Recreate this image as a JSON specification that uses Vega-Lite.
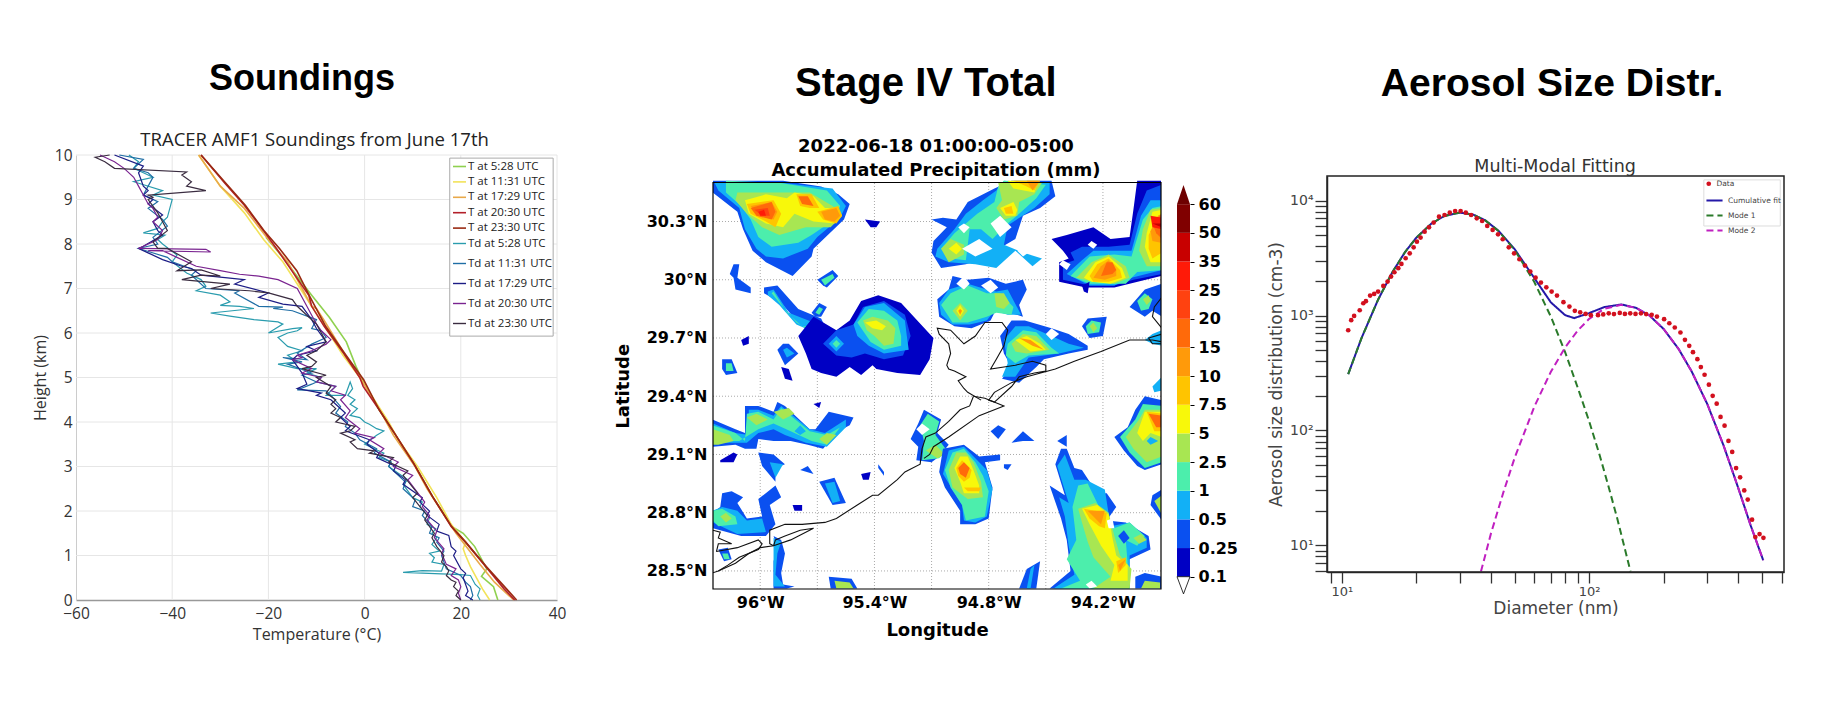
{"$schema":"https://vega.github.io/schema/vega-lite/v6.json","autosize":{"type":"none"},"padding":{"left":76,"top":155,"right":1754,"bottom":559},"background":"white","bounds":"flush","spacing":16,"config":{"view":{"stroke":null},"axis":{"grid":false}},
"resolve":{"scale":{"fill":"independent","stroke":"independent","color":"independent","strokeDash":"independent"},"legend":{"fill":"independent","stroke":"independent","color":"independent","strokeDash":"independent"}},
"hconcat":[
{"width":621,"height":445,"layer":[
{"data":{"values":[{"t":-40},{"t":-20},{"t":0},{"t":20},{"t":40}]},"mark":{"type":"rule","color":"#e6e6e6","strokeWidth":1},"encoding":{"x":{"field":"t","type":"quantitative","scale":{"domain":[-60,40],"range":[0,481]},"title":"Temperature (°C)","axis":{"values":[-60,-40,-20,0,20,40],"tickSize":0,"domainColor":"#999","domainWidth":1.5,"labelFont":"Open Sans","labelFontSize":15.5,"labelColor":"#333","labelPadding":6,"titleFont":"Open Sans","titleFontSize":16,"titleFontWeight":"normal","titleColor":"#333","titlePadding":5,"labelFlush":false}}}},
{"data":{"values":[{"h":1},{"h":2},{"h":3},{"h":4},{"h":5},{"h":6},{"h":7},{"h":8},{"h":9},{"h":10}]},"mark":{"type":"rule","color":"#e6e6e6","strokeWidth":1},"encoding":{"y":{"field":"h","type":"quantitative","scale":{"domain":[0,10],"range":[445,0]},"title":"Height (km)","axis":{"values":[0,1,2,3,4,5,6,7,8,9,10],"tickCount":11,"tickSize":0,"domainColor":"#ccc","labelFont":"Open Sans","labelFontSize":15.5,"labelColor":"#333","labelPadding":4,"titleFont":"Open Sans","titleFontSize":16,"titleFontWeight":"normal","titleColor":"#333","titlePadding":6,"labelFlush":false}},"x":{"datum":-60,"scale":{"domain":[-60,40],"range":[0,481]}},"x2":{"datum":40}}},
{"data":{"values":[{}]},"mark":{"type":"rect","fill":"white","stroke":"#aaa","strokeWidth":1},"encoding":{"x":{"datum":17.7,"scale":{"domain":[-60,40],"range":[0,481]}},"x2":{"datum":39.2},"y":{"datum":9.93,"scale":{"domain":[0,10],"range":[445,0]}},"y2":{"datum":5.93}}},
{"data":{"values":[
{"series":"T at 5:28 UTC","t":[27.7,26.8,24.3,25.4,22.9,20.5,18.2,14.1,10.2,6.2,3,-0.5,-1.8,-3.8,-7.3,-11,-14.2,-17,-20.5],"h":[0,0.3,0.53,0.7,1.2,1.5,1.65,2.33,3.07,3.75,4.28,4.95,5.25,5.8,6.35,6.85,7.3,7.7,8.15]},
{"series":"T at 11:31 UTC","t":[26,24.5,22,21,20.5,21,18,16.5,15,11,7,5,2,-1,-4.5,-8,-11,-14,-17,-21,-25,-30,-34.5],"h":[0,0.25,0.75,1,1.15,1.3,1.7,2,2.3,3,3.6,4,4.5,5,5.5,6.1,6.6,7.1,7.6,8.1,8.7,9.3,10]},
{"series":"T at 17:29 UTC","t":[31,27,24,19,16,13,10.5,6,3,-1,-4,-8.5,-10,-11,-13,-16,-20,-25,-30,-34.5],"h":[0,0.4,0.8,1.5,2,2.5,3,3.7,4.3,5,5.5,6.3,6.55,6.6,7,7.6,8.1,8.8,9.3,10]},
{"series":"T at 20:30 UTC","t":[31.2,29,25.2,21,18,14.1,10.2,6.2,3,-0.3,-1,-4.4,-8.4,-11,-11.6,-14.5,-18,-21,-25,-29,-34],"h":[0,0.25,0.75,1.3,1.65,2.33,3.07,3.75,4.28,4.8,5,5.55,6.15,6.6,6.85,7.3,7.85,8.3,8.87,9.36,10]},
{"series":"T at 23:30 UTC","t":[31.6,29.5,25.3,21,18.1,14.1,10.2,6.2,3,-0.2,-4.2,-8.1,-11.3,-14.1,-17.7,-20.9,-24.8,-28.8,-34],"h":[0,0.25,0.75,1.3,1.65,2.33,3.07,3.75,4.28,4.95,5.55,6.15,6.8,7.4,7.9,8.3,8.87,9.36,10]}
]},"transform":[{"flatten":["t","h"]}],"mark":{"type":"line","order":false,"strokeWidth":1.6},"encoding":{"x":{"field":"t","type":"quantitative","scale":{"domain":[-60,40],"range":[0,481]}},"y":{"field":"h","type":"quantitative","scale":{"domain":[0,10],"range":[445,0]}},"stroke":{"field":"series","type":"nominal","scale":{"domain":["T at 5:28 UTC","T at 11:31 UTC","T at 17:29 UTC","T at 20:30 UTC","T at 23:30 UTC"],"range":["#8fd14f","#f2e35a","#e9a94a","#b3202a","#9a2a12"]},"legend":{"orient":"none","legendX":376,"legendY":4,"title":null,"symbolType":"stroke","symbolSize":170,"symbolStrokeWidth":1.6,"labelFont":"Open Sans","labelFontSize":11.5,"labelColor":"#222","rowPadding":2.4,"padding":0,"labelOffset":1}}}},
{"data":{"values":[
{"series":"Td at 5:28 UTC","t":[24,23.5,24,23,22,20,8,12,16,16.5,14,14.5,13.5,15.5,14,15,14,14.8,13,13.5,11.5,12,10,8,9,7,5,5.5,3,4,2,0,2.5,4,2.5,1,0,-1,-3,-1.5,-3,-2,-3.5,-2.5,-3,-4,-8,-6,-10,-9,-12,-10,-14,-18,-14,-16,-13,-16,-18,-16,-14,-13,-15,-20,-17,-18,-23,-28,-32,-23,-26,-30,-28,-30,-35,-33,-34,-37,-40,-39,-42,-43,-41.5,-46,-43,-42,-41,-40,-44,-42,-48,-44,-46,-48,-47,-49],"h":[0,0.1,0.25,0.35,0.55,0.57,0.62,0.66,0.65,0.8,0.85,0.95,1.05,1.1,1.25,1.4,1.5,1.6,1.7,1.85,2.1,2.2,2.3,2.6,2.7,2.85,3,3.1,3.2,3.3,3.4,3.5,3.7,3.8,3.85,3.95,4,4.1,4.15,4.3,4.4,4.5,4.6,4.75,4.9,4.6,4.6,4.8,4.9,5,5.1,5.2,5.2,5.3,5.35,5.5,5.6,5.7,5.9,6,6.05,6.12,6.1,6,6.2,6.25,6.3,6.38,6.45,6.55,6.6,6.62,6.7,6.85,6.95,7.05,7.2,7.35,7.6,7.75,8,8.1,8.2,8.25,8.35,8.5,8.6,9,9.1,9.2,9.4,9.5,9.6,9.7,9.85,10]},
{"series":"Td at 11:31 UTC","t":[22,22.5,22,21,20,17,16,16.5,15,15.5,13.5,14,12,12.5,10,10.5,8,8.5,5,5.5,2,2.5,-1,-2,-4,-3.5,-6,-5,-7,-8,-14,-11,-10,-13,-11,-16,-13,-17,-12,-14,-11,-9,-8,-9,-11,-10,-15,-19,-17,-22,-27,-26,-33,-36,-35,-40,-41,-47,-45,-43,-44,-41,-42,-45,-43,-46,-45,-44,-45,-48,-46,-51],"h":[0,0.1,0.3,0.4,0.55,0.7,1,1.1,1.3,1.4,1.5,1.65,1.9,2,2.1,2.25,2.5,2.65,3,3.1,3.3,3.4,3.6,3.75,3.9,4,4.2,4.35,4.6,4.7,4.72,4.85,4.9,5.05,5.1,5.3,5.35,5.45,5.4,5.55,5.75,5.85,5.9,6.05,6.1,6.3,6.5,6.55,6.58,6.6,6.9,6.95,7,7.3,7.4,7.6,7.7,7.9,7.95,8,8.15,8.4,8.55,8.8,8.95,9.1,9.3,9.5,9.6,9.7,9.9,10]},
{"series":"Td at 17:29 UTC","t":[22.5,21,21.5,20.5,21,20,18.5,19,18,17.5,15,15.5,13,13.5,11.5,12,8,8.5,6,6.5,2.5,3,0.5,1,-4,-3,-5,-4,-6,-7,-10,-9,-14,-12,-13,-15,-14,-10,-12,-8,-9,-10,-11,-13,-17,-22,-20,-27,-25,-34,-36,-38,-42,-45,-47,-46,-42,-43,-44,-42,-45,-44,-46,-45,-46,-47,-46,-52],"h":[0,0.1,0.2,0.5,0.6,0.7,1,1.1,1.2,1.45,1.55,1.7,1.9,2,2.2,2.3,2.6,2.7,2.9,3,3.2,3.3,3.5,3.6,3.8,3.9,4.1,4.2,4.4,4.5,4.6,4.65,4.75,4.85,5.1,5.4,5.5,5.6,5.7,5.8,5.95,6.1,6.3,6.6,6.65,6.8,6.9,7.1,7.2,7.3,7.45,7.5,7.65,7.8,7.9,7.95,8.2,8.3,8.5,8.65,8.9,9,9.1,9.2,9.3,9.6,9.75,10]},
{"series":"Td at 20:30 UTC","t":[20,19.5,20,19.5,18,19,17,16,16.5,14.5,15,13,13.5,12,12.5,9,10,6,7,3,4,1,2,-2,-1,-4,-3,-5,-4,-7,-6,-10,-9,-13,-11,-15,-13,-14,-11,-8,-7,-8,-9,-10,-11,-12,-14,-18,-22,-26,-30,-35,-39,-42,-45,-32,-33,-47,-43,-42,-44,-43,-44,-45,-46,-47,-48,-50,-52,-55],"h":[0,0.15,0.3,0.45,0.55,0.7,0.8,1.05,1.15,1.4,1.55,1.8,1.9,2.1,2.2,2.7,2.8,3,3.1,3.3,3.4,3.6,3.65,3.75,3.85,4.1,4.25,4.5,4.6,4.7,4.8,4.9,5,5.1,5.2,5.4,5.45,5.5,5.6,5.75,5.85,5.95,6.05,6.2,6.4,6.6,7,7.2,7.28,7.32,7.4,7.5,7.7,7.85,7.85,7.82,7.88,7.9,8.1,8.3,8.5,8.6,8.8,8.9,9.1,9.3,9.5,9.7,9.85,10]},
{"series":"Td at 23:30 UTC","t":[20,19,19.5,18.5,19,18,17,17.5,17,16,16.5,15,14,14.5,12.5,13,10,11,8,9,5,6,1,2,-1.5,-3,-2,-5,-3,-2,-6,-5,-7,-6,-7,-6,-8,-7,-10,-8,-13,-11,-10,-12,-10,-9,-8,-9,-10,-12,-14,-15,-20,-24,-32,-28,-38,-34,-30,-34,-39,-36,-41,-43,-44,-41,-42,-43,-45,-44,-45,-33,-37,-36,-38,-37,-52,-54,-56,-53],"h":[0,0.1,0.2,0.3,0.4,0.45,0.55,0.65,0.75,0.85,1,1.2,1.4,1.5,1.8,1.9,2.3,2.4,2.8,2.9,3.1,3.2,3.3,3.35,3.4,3.55,3.6,3.75,3.8,3.9,4,4.1,4.2,4.3,4.4,4.5,4.65,4.8,5,5.05,5.2,5.25,5.35,5.5,5.6,5.7,5.8,6,6.2,6.4,6.6,6.75,6.9,6.95,7,7.1,7.2,7.3,7.28,7.42,7.4,7.6,7.9,7.9,8.05,8.3,8.5,8.7,9,9.05,9.1,9.2,9.3,9.4,9.55,9.62,9.7,9.85,9.95,10]}
]},"transform":[{"flatten":["t","h"]}],"mark":{"type":"line","order":false,"strokeWidth":1.2},"encoding":{"x":{"field":"t","type":"quantitative","scale":{"domain":[-60,40],"range":[0,481]}},"y":{"field":"h","type":"quantitative","scale":{"domain":[0,10],"range":[445,0]}},"color":{"field":"series","type":"nominal","scale":{"domain":["Td at 5:28 UTC","Td at 11:31 UTC","Td at 17:29 UTC","Td at 20:30 UTC","Td at 23:30 UTC"],"range":["#2a9cae","#1f6ea5","#1c1c85","#7a2490","#3a2c40"]},"legend":{"orient":"none","legendX":376,"legendY":81,"title":null,"symbolType":"stroke","symbolSize":170,"symbolStrokeWidth":1.4,"labelFont":"Open Sans","labelFontSize":11.5,"labelColor":"#222","rowPadding":7,"padding":0,"labelOffset":1}}}},
{"data":{"values":[{"label":"Soundings"}]},"mark":{"type":"text","fontSize":36,"fontWeight":"bold","font":"Liberation Sans","baseline":"alphabetic","color":"#000"},"encoding":{"text":{"field":"label"},"x":{"datum":-13,"scale":{"domain":[-60,40],"range":[0,481]}},"y":{"datum":11.46,"scale":{"domain":[0,10],"range":[445,0]}}}},
{"data":{"values":[{"label":"TRACER AMF1 Soundings from June 17th"}]},"mark":{"type":"text","fontSize":18.5,"font":"Open Sans","baseline":"alphabetic","color":"#222"},"encoding":{"text":{"field":"label"},"x":{"datum":-10.4,"scale":{"domain":[-60,40],"range":[0,481]}},"y":{"datum":10.2,"scale":{"domain":[0,10],"range":[445,0]}}}}
]},
{"width":448,"height":445,"layer":[
{"data":{"values":[{"lon":-96},{"lon":-95.7},{"lon":-95.4},{"lon":-95.1},{"lon":-94.8},{"lon":-94.5},{"lon":-94.2}]},"mark":{"type":"rule","color":"#aaa","strokeDash":[1,2]},"encoding":{"x":{"field":"lon","type":"quantitative","scale":{"domain":[-96.248,-93.895],"range":[0,448]},"title":"Longitude","axis":{"values":[-96,-95.4,-94.8,-94.2],"offset":-11,"domain":false,"ticks":false,"labelExpr":"format(abs(datum.value),'.1~f')+'°W'","labelFont":"DejaVu Sans","labelFontSize":16,"labelFontWeight":"bold","labelColor":"#000","labelPadding":5,"titleFont":"DejaVu Sans","titleFontSize":18,"titleFontWeight":"bold","titleColor":"#000","titlePadding":11,"labelFlush":false}},"y":{"datum":28.407,"scale":{"domain":[28.407,30.501],"range":[434,27.5]}},"y2":{"datum":30.501}}},
{"data":{"values":[{"lat":30.3},{"lat":30},{"lat":29.7},{"lat":29.4},{"lat":29.1},{"lat":28.8},{"lat":28.5}]},"mark":{"type":"rule","color":"#aaa","strokeDash":[1,2]},"encoding":{"y":{"field":"lat","type":"quantitative","scale":{"domain":[28.407,30.501],"range":[434,27.5]},"title":"Latitude","axis":{"values":[30.3,30,29.7,29.4,29.1,28.8,28.5],"domain":false,"ticks":false,"labelExpr":"format(datum.value,'.1~f')+'°N'","labelFont":"DejaVu Sans","labelFontSize":16,"labelFontWeight":"bold","labelColor":"#000","labelPadding":6,"titleFont":"DejaVu Sans","titleFontSize":18,"titleFontWeight":"bold","titleColor":"#000","titlePadding":14,"labelFlush":false}},"x":{"datum":-96.248,"scale":{"domain":[-96.248,-93.895],"range":[0,448]}},"x2":{"datum":-93.895}}},
{"data":{"values":[
{"poly":1,"level":"0.25","lon":[-96.25,-95.88,-95.68,-95.59,-95.53,-95.56,-95.72,-95.73,-95.83,-95.97,-96.04,-96.09,-96.12,-96.25],"lat":[30.51,30.51,30.48,30.44,30.39,30.31,30.16,30.12,30.02,30.09,30.15,30.26,30.35,30.45]},
{"poly":2,"level":"0.5","lon":[-96.24,-95.89,-95.62,-95.55,-95.58,-95.70,-95.75,-95.88,-95.97,-96.02,-96.08,-96.11,-96.22],"lat":[30.50,30.50,30.47,30.38,30.32,30.22,30.16,30.11,30.12,30.16,30.26,30.37,30.46]},
{"poly":3,"level":"1","lon":[-96.18,-95.90,-95.65,-95.58,-95.61,-95.73,-95.80,-95.94,-96.01,-96.05,-96.10,-96.18],"lat":[30.51,30.50,30.46,30.38,30.31,30.23,30.19,30.17,30.22,30.31,30.38,30.45]},
{"poly":4,"level":"2.5","lon":[-96.12,-95.86,-95.74,-95.62,-95.57,-95.63,-95.76,-95.90,-95.99,-96.07,-96.13],"lat":[30.45,30.45,30.45,30.38,30.33,30.27,30.27,30.23,30.27,30.34,30.41]},
{"poly":5,"level":"5","lon":[-96.08,-95.97,-95.86,-95.82,-95.72,-95.66,-95.59,-95.57,-95.61,-95.72,-95.82,-95.88,-95.97,-96.06],"lat":[30.41,30.44,30.42,30.45,30.43,30.37,30.37,30.33,30.29,30.30,30.34,30.27,30.29,30.34]},
{"poly":6,"level":"7.5","lon":[-96.07,-95.93,-95.89,-95.92,-95.97,-96.05],"lat":[30.39,30.41,30.34,30.27,30.30,30.34]},
{"poly":7,"level":"7.5","lon":[-95.81,-95.73,-95.69,-95.74,-95.79],"lat":[30.44,30.44,30.37,30.37,30.38]},
{"poly":8,"level":"7.5","lon":[-95.70,-95.59,-95.57,-95.60,-95.67],"lat":[30.35,30.38,30.33,30.29,30.31]},
{"poly":9,"level":"10","lon":[-96.05,-95.94,-95.91,-95.93,-96.01],"lat":[30.38,30.40,30.35,30.31,30.33]},
{"poly":10,"level":"10","lon":[-95.68,-95.60,-95.58,-95.61,-95.66],"lat":[30.35,30.37,30.33,30.30,30.31]},
{"poly":11,"level":"15","lon":[-96.05,-95.94,-95.92,-95.94,-96.02],"lat":[30.37,30.40,30.35,30.31,30.33]},
{"poly":12,"level":"15","lon":[-95.80,-95.75,-95.72,-95.78],"lat":[30.43,30.43,30.38,30.39]},
{"poly":13,"level":"20","lon":[-96.03,-95.96,-95.95,-95.99],"lat":[30.36,30.37,30.33,30.33]},
{"poly":14,"level":"25","lon":[-96.01,-95.98,-95.97,-96.0],"lat":[30.35,30.36,30.33,30.33]},
{"poly":15,"level":"0.1","lon":[-95.45,-95.37,-95.39,-95.42],"lat":[30.31,30.30,30.27,30.27]},
{"poly":16,"level":"0.25","lon":[-96.14,-96.11,-96.12,-96.05,-96.05,-96.13,-96.14,-96.16],"lat":[30.08,30.08,30.01,29.96,29.93,29.95,30.01,30.03]},
{"poly":17,"level":"0.25","lon":[-95.70,-95.62,-95.59,-95.65,-95.67],"lat":[30.0,30.05,30.02,29.96,29.97]},
{"poly":18,"level":"1","lon":[-95.68,-95.62,-95.61,-95.66],"lat":[30.0,30.03,30.01,29.97]},
{"poly":19,"level":"0.25","lon":[-95.98,-95.91,-95.80,-95.68,-95.66,-95.72,-95.80,-95.89,-95.98],"lat":[29.96,29.97,29.85,29.80,29.76,29.74,29.78,29.88,29.93]},
{"poly":20,"level":"0.5","lon":[-95.96,-95.93,-95.85,-95.72,-95.68,-95.74,-95.81,-95.90,-95.96],"lat":[29.94,29.95,29.83,29.78,29.76,29.74,29.77,29.87,29.92]},
{"poly":21,"level":"1","lon":[-95.94,-95.93,-95.86,-95.78,-95.71,-95.76,-95.81,-95.89],"lat":[29.93,29.94,29.83,29.76,29.76,29.75,29.78,29.87]},
{"poly":22,"level":"0.25","lon":[-95.73,-95.69,-95.65,-95.68,-95.71],"lat":[29.83,29.88,29.86,29.81,29.81]},
{"poly":23,"level":"1","lon":[-95.71,-95.69,-95.67,-95.69],"lat":[29.83,29.86,29.85,29.82]},
{"poly":24,"level":"0.1","lon":[-96.10,-96.06,-96.06,-96.09],"lat":[29.69,29.71,29.67,29.66]},
{"poly":25,"level":"0.1","lon":[-95.80,-95.72,-95.60,-95.53,-95.47,-95.38,-95.26,-95.09,-95.11,-95.16,-95.28,-95.39,-95.41,-95.47,-95.53,-95.60,-95.68,-95.73,-95.76],"lat":[29.71,29.81,29.74,29.79,29.89,29.92,29.88,29.70,29.59,29.51,29.52,29.54,29.56,29.51,29.55,29.50,29.52,29.54,29.62]},
{"poly":26,"level":"0.25","lon":[-95.67,-95.60,-95.51,-95.46,-95.35,-95.24,-95.21,-95.25,-95.35,-95.45,-95.52,-95.60],"lat":[29.67,29.74,29.77,29.86,29.89,29.82,29.71,29.61,29.59,29.62,29.60,29.61]},
{"poly":27,"level":"0.5","lon":[-95.51,-95.45,-95.35,-95.24,-95.23,-95.22,-95.35,-95.43,-95.49],"lat":[29.77,29.86,29.88,29.79,29.71,29.64,29.62,29.66,29.71]},
{"poly":28,"level":"0.5","lon":[-95.64,-95.60,-95.56,-95.60],"lat":[29.67,29.71,29.67,29.63]},
{"poly":29,"level":"1","lon":[-95.49,-95.43,-95.35,-95.28,-95.26,-95.26,-95.35,-95.42],"lat":[29.78,29.85,29.84,29.79,29.71,29.66,29.64,29.68]},
{"poly":30,"level":"1","lon":[-95.62,-95.60,-95.58,-95.60],"lat":[29.67,29.69,29.67,29.65]},
{"poly":31,"level":"2.5","lon":[-95.46,-95.41,-95.33,-95.29,-95.30,-95.35,-95.40,-95.44],"lat":[29.79,29.81,29.79,29.75,29.67,29.66,29.71,29.74]},
{"poly":32,"level":"5","lon":[-95.45,-95.39,-95.34,-95.36,-95.41],"lat":[29.78,29.79,29.76,29.74,29.75]},
{"poly":33,"level":"0.25","lon":[-95.88,-95.85,-95.80,-95.87,-95.91],"lat":[29.67,29.67,29.62,29.56,29.64]},
{"poly":34,"level":"0.5","lon":[-95.88,-95.86,-95.82,-95.86],"lat":[29.64,29.65,29.62,29.60]},
{"poly":35,"level":"0.25","lon":[-96.20,-96.15,-96.12,-96.18,-96.20],"lat":[29.59,29.59,29.52,29.51,29.54]},
{"poly":36,"level":"1","lon":[-96.18,-96.15,-96.14,-96.18],"lat":[29.57,29.57,29.53,29.53]},
{"poly":37,"level":"0.1","lon":[-95.89,-95.85,-95.83,-95.87],"lat":[29.55,29.54,29.48,29.49]},
{"poly":38,"level":"0.25","lon":[-95.10,-95.04,-94.97,-94.91,-94.85,-94.77,-94.68,-94.68,-94.58,-94.47,-94.45,-94.53,-94.62,-94.66,-94.85,-94.92,-95.05,-95.10,-95.09,-95.02],"lat":[30.31,30.32,30.31,30.40,30.43,30.47,30.51,30.51,30.51,30.51,30.43,30.37,30.33,30.21,30.10,30.08,30.06,30.14,30.20,30.27]},
{"poly":39,"level":"0.5","lon":[-95.07,-94.98,-94.92,-94.83,-94.76,-94.72,-94.48,-94.48,-94.56,-94.70,-94.72,-94.62,-94.52,-94.57,-94.66,-94.76,-94.87,-95.01,-95.08],"lat":[30.16,30.26,30.34,30.41,30.46,30.51,30.5,30.44,30.37,30.28,30.18,30.14,30.11,30.07,30.15,30.06,30.08,30.09,30.12]},
{"poly":40,"level":"1","lon":[-95.05,-94.98,-94.86,-94.77,-94.75,-94.72,-94.50,-94.55,-94.64,-94.70,-94.75,-94.78,-94.84,-94.90,-94.92,-95.0],"lat":[30.16,30.24,30.34,30.40,30.48,30.51,30.49,30.42,30.34,30.29,30.24,30.21,30.26,30.26,30.10,30.11]},
{"poly":41,"level":"2.5","lon":[-95.05,-95.0,-94.93,-94.93,-95.01],"lat":[30.16,30.21,30.18,30.13,30.09]},
{"poly":42,"level":"5","lon":[-95.01,-94.97,-94.94,-94.97],"lat":[30.16,30.19,30.16,30.13]},
{"poly":43,"level":"2.5","lon":[-94.75,-94.52,-94.56,-94.64,-94.65,-94.72,-94.76,-94.73],"lat":[30.50,30.50,30.44,30.40,30.33,30.31,30.37,30.41]},
{"poly":44,"level":"5","lon":[-94.70,-94.54,-94.56,-94.67],"lat":[30.51,30.51,30.45,30.47]},
{"poly":45,"level":"5","lon":[-94.74,-94.67,-94.65,-94.66,-94.71],"lat":[30.37,30.40,30.36,30.33,30.33]},
{"poly":46,"level":"7.5","lon":[-94.67,-94.53,-94.56,-94.60],"lat":[30.51,30.51,30.46,30.48]},
{"poly":47,"level":"10","lon":[-94.60,-94.53,-94.57],"lat":[30.51,30.51,30.46]},
{"poly":48,"level":"7.5","lon":[-94.72,-94.68,-94.67,-94.71],"lat":[30.37,30.38,30.34,30.34]},
{"poly":49,"level":"hole","lon":[-94.96,-94.93,-94.90,-94.93],"lat":[30.27,30.29,30.27,30.24]},
{"poly":50,"level":"hole","lon":[-94.94,-94.85,-94.78,-94.87],"lat":[30.16,30.21,30.16,30.12]},
{"poly":51,"level":"hole","lon":[-94.79,-94.74,-94.68,-94.74],"lat":[30.29,30.33,30.27,30.22]},
{"poly":52,"level":"hole","lon":[-94.65,-94.62,-94.59,-94.62],"lat":[30.15,30.17,30.14,30.12]},
{"poly":53,"level":"0.25","lon":[-95.01,-94.99,-94.91,-94.80,-94.71,-94.62,-94.60,-94.64,-94.62,-94.76,-94.79,-94.89,-94.98,-95.06,-95.07],"lat":[29.95,30.02,30.0,30.01,29.98,30.0,29.95,29.87,29.81,29.85,29.79,29.75,29.76,29.81,29.90]},
{"poly":54,"level":"0.5","lon":[-95.06,-95.01,-94.91,-94.81,-94.76,-94.70,-94.63,-94.70,-94.77,-94.81,-94.90,-94.99,-95.05],"lat":[29.88,29.95,29.98,29.95,29.94,29.95,29.82,29.82,29.84,29.79,29.77,29.77,29.82]},
{"poly":55,"level":"1","lon":[-95.05,-95.0,-94.91,-94.81,-94.74,-94.67,-94.68,-94.76,-94.81,-94.91,-94.99],"lat":[29.87,29.93,29.97,29.93,29.93,29.86,29.82,29.83,29.81,29.78,29.78]},
{"poly":56,"level":"2.5","lon":[-94.99,-94.95,-94.91,-94.95],"lat":[29.84,29.88,29.84,29.79]},
{"poly":57,"level":"5","lon":[-94.97,-94.95,-94.93,-94.95],"lat":[29.84,29.87,29.84,29.81]},
{"poly":58,"level":"10","lon":[-94.96,-94.95,-94.94,-94.95],"lat":[29.84,29.85,29.84,29.82]},
{"poly":59,"level":"2.5","lon":[-94.77,-94.72,-94.69,-94.72,-94.76],"lat":[29.93,29.93,29.88,29.85,29.86]},
{"poly":60,"level":"hole","lon":[-94.97,-94.93,-94.90,-94.93],"lat":[29.98,30.02,29.98,29.95]},
{"poly":61,"level":"hole","lon":[-94.84,-94.79,-94.75,-94.79],"lat":[29.97,30.0,29.96,29.93]},
{"poly":62,"level":"0.25","lon":[-94.74,-94.68,-94.61,-94.47,-94.38,-94.28,-94.28,-94.38,-94.47,-94.51,-94.55,-94.64,-94.73,-94.68,-94.72],"lat":[29.71,29.79,29.79,29.75,29.72,29.66,29.64,29.62,29.60,29.59,29.55,29.47,29.49,29.55,29.62]},
{"poly":63,"level":"0.5","lon":[-94.72,-94.66,-94.59,-94.47,-94.38,-94.30,-94.43,-94.59,-94.66,-94.73,-94.70],"lat":[29.69,29.76,29.76,29.71,29.67,29.65,29.62,29.60,29.50,29.50,29.57]},
{"poly":64,"level":"1","lon":[-94.70,-94.62,-94.55,-94.47,-94.43,-94.59,-94.66,-94.71],"lat":[29.67,29.74,29.73,29.65,29.62,29.61,29.57,29.61]},
{"poly":65,"level":"2.5","lon":[-94.68,-94.62,-94.55,-94.48,-94.60,-94.66],"lat":[29.67,29.72,29.71,29.64,29.62,29.63]},
{"poly":66,"level":"5","lon":[-94.66,-94.60,-94.53,-94.50,-94.58],"lat":[29.69,29.71,29.67,29.64,29.63]},
{"poly":67,"level":"10","lon":[-94.64,-94.58,-94.51,-94.57],"lat":[29.70,29.69,29.64,29.66]},
{"poly":68,"level":"hole","lon":[-94.50,-94.47,-94.43,-94.47],"lat":[29.72,29.75,29.72,29.69]},
{"poly":69,"level":"0.25","lon":[-94.31,-94.28,-94.18,-94.20,-94.27],"lat":[29.76,29.80,29.81,29.71,29.70]},
{"poly":70,"level":"1","lon":[-94.29,-94.26,-94.21,-94.22,-94.28],"lat":[29.76,29.79,29.78,29.73,29.72]},
{"poly":71,"level":"2.5","lon":[-94.27,-94.25,-94.23,-94.25],"lat":[29.76,29.78,29.75,29.73]},
{"poly":72,"level":"0.1","lon":[-94.47,-94.39,-94.25,-94.16,-94.06,-94.04,-94.02,-93.89,-93.89,-94.06,-94.14,-94.29,-94.43,-94.43,-94.38,-94.41],"lat":[30.21,30.23,30.27,30.21,30.22,30.36,30.51,30.51,30.02,29.98,29.96,29.96,29.99,30.09,30.11,30.15]},
{"poly":73,"level":"0.25","lon":[-94.37,-94.31,-94.17,-94.06,-94.02,-93.97,-93.89,-93.89,-94.04,-94.14,-94.27,-94.41,-94.41,-94.35],"lat":[30.14,30.17,30.17,30.18,30.34,30.46,30.49,30.03,30.0,29.97,29.97,30.0,30.08,30.10]},
{"poly":74,"level":"0.5","lon":[-94.39,-94.31,-94.25,-94.16,-94.05,-94.0,-93.95,-93.89,-93.89,-94.05,-94.14,-94.27],"lat":[30.03,30.10,30.15,30.15,30.15,30.33,30.41,30.41,30.05,30.01,29.97,29.97]},
{"poly":75,"level":"1","lon":[-94.37,-94.27,-94.14,-94.05,-93.99,-93.94,-93.89,-93.89,-94.02,-94.08,-94.27],"lat":[30.02,30.12,30.13,30.12,30.31,30.37,30.38,30.05,30.04,29.98,29.98]},
{"poly":76,"level":"2.5","lon":[-94.34,-94.26,-94.17,-94.08,-94.06,-94.14,-94.25],"lat":[30.01,30.09,30.13,30.07,30.01,29.98,29.99]},
{"poly":77,"level":"2.5","lon":[-93.99,-93.95,-93.89,-93.89,-93.97,-94.01],"lat":[30.26,30.36,30.37,30.07,30.07,30.15]},
{"poly":78,"level":"5","lon":[-94.30,-94.24,-94.17,-94.10,-94.08,-94.16,-94.26],"lat":[30.01,30.09,30.12,30.06,30.01,29.98,29.99]},
{"poly":79,"level":"5","lon":[-93.97,-93.94,-93.89,-93.89,-93.95,-93.98],"lat":[30.24,30.35,30.36,30.09,30.09,30.17]},
{"poly":80,"level":"7.5","lon":[-94.27,-94.23,-94.17,-94.11,-94.10,-94.17,-94.25],"lat":[30.02,30.08,30.11,30.05,30.01,29.99,29.99]},
{"poly":81,"level":"7.5","lon":[-93.96,-93.91,-93.89,-93.89,-93.94,-93.96],"lat":[30.23,30.33,30.34,30.14,30.11,30.16]},
{"poly":82,"level":"10","lon":[-94.25,-94.21,-94.17,-94.13,-94.13,-94.19],"lat":[30.01,30.07,30.10,30.05,30.02,30.0]},
{"poly":83,"level":"10","lon":[-93.95,-93.91,-93.89,-93.89,-93.94],"lat":[30.25,30.33,30.34,30.19,30.2]},
{"poly":84,"level":"15","lon":[-94.21,-94.18,-94.15,-94.13,-94.15],"lat":[30.02,30.09,30.09,30.05,30.03]},
{"poly":85,"level":"15","lon":[-93.94,-93.89,-93.89,-93.92],"lat":[30.29,30.34,30.21,30.24]},
{"poly":86,"level":"25","lon":[-93.95,-93.89,-93.89,-93.94],"lat":[30.33,30.32,30.26,30.27]},
{"poly":87,"level":"35","lon":[-93.94,-93.89,-93.89],"lat":[30.29,30.29,30.27]},
{"poly":88,"level":"hole","lon":[-94.28,-94.26,-94.23,-94.25],"lat":[30.18,30.2,30.18,30.16]},
{"poly":89,"level":"hole","lon":[-94.43,-94.41,-94.37,-94.39],"lat":[30.08,30.1,30.08,30.05]},
{"poly":90,"level":"0.1","lon":[-94.31,-94.27,-94.28,-94.30],"lat":[29.97,29.99,29.93,29.94]},
{"poly":91,"level":"0.25","lon":[-94.06,-93.98,-93.89,-93.89,-93.94,-93.98],"lat":[29.86,29.95,29.98,29.81,29.84,29.81]},
{"poly":92,"level":"1","lon":[-94.02,-93.98,-93.94,-93.96,-94.0],"lat":[29.89,29.93,29.90,29.85,29.84]},
{"poly":93,"level":"2.5","lon":[-93.99,-93.96,-93.95,-93.97],"lat":[29.90,29.92,29.89,29.87]},
{"poly":94,"level":"0.5","lon":[-93.98,-93.94,-93.89,-93.89,-93.94],"lat":[29.69,29.72,29.74,29.66,29.67]},
{"poly":95,"level":"0.25","lon":[-96.25,-96.13,-96.08,-96.08,-96.01,-95.93,-95.91,-95.87,-95.74,-95.71,-95.64,-95.51,-95.53,-95.59,-95.67,-95.75,-95.84,-95.93,-96.01,-96.02,-96.08,-96.13,-96.25],"lat":[29.28,29.23,29.21,29.35,29.35,29.32,29.37,29.35,29.23,29.23,29.32,29.29,29.25,29.22,29.13,29.15,29.17,29.17,29.18,29.13,29.13,29.15,29.14]},
{"poly":96,"level":"0.5","lon":[-96.25,-96.13,-96.06,-96.06,-96.01,-95.93,-95.89,-95.74,-95.66,-95.55,-95.55,-95.65,-95.76,-95.87,-95.93,-96.01,-96.07,-96.25],"lat":[29.26,29.21,29.20,29.33,29.33,29.30,29.35,29.23,29.21,29.28,29.24,29.14,29.16,29.20,29.23,29.21,29.16,29.16]},
{"poly":97,"level":"1","lon":[-96.25,-96.13,-96.08,-96.07,-96.01,-95.93,-95.89,-95.74,-95.65,-95.56,-95.58,-95.65,-95.73,-95.84,-95.93,-96.01,-96.11,-96.25],"lat":[29.25,29.21,29.17,29.31,29.32,29.28,29.34,29.22,29.2,29.25,29.24,29.15,29.17,29.22,29.26,29.23,29.17,29.17]},
{"poly":98,"level":"2.5","lon":[-96.25,-96.16,-96.14,-96.22,-96.25],"lat":[29.23,29.20,29.17,29.15,29.15]},
{"poly":99,"level":"2.5","lon":[-96.07,-96.02,-95.96,-96.02],"lat":[29.29,29.31,29.28,29.25]},
{"poly":100,"level":"2.5","lon":[-95.93,-95.85,-95.82,-95.88],"lat":[29.32,29.34,29.31,29.28]},
{"poly":101,"level":"2.5","lon":[-95.69,-95.65,-95.60,-95.65],"lat":[29.18,29.21,29.20,29.15]},
{"poly":102,"level":"0.5","lon":[-95.82,-95.79,-95.76,-95.79],"lat":[29.22,29.25,29.22,29.20]},
{"poly":103,"level":"0.1","lon":[-96.21,-96.14,-96.12,-96.14,-96.21],"lat":[29.07,29.11,29.10,29.06,29.06]},
{"poly":104,"level":"0.25","lon":[-96.01,-95.93,-95.87,-95.92,-95.92,-95.99],"lat":[29.11,29.10,29.05,29.03,28.96,29.04]},
{"poly":105,"level":"0.5","lon":[-95.95,-95.88,-95.92],"lat":[29.06,29.05,28.98]},
{"poly":106,"level":"0.25","lon":[-96.01,-95.92,-95.89,-95.95,-95.92,-95.97,-96.10,-96.25,-96.25,-96.21,-96.20,-96.15,-96.09,-96.12,-96.07,-95.99],"lat":[28.87,28.94,28.88,28.84,28.74,28.68,28.68,28.72,28.80,28.83,28.90,28.91,28.88,28.85,28.77,28.78]},
{"poly":107,"level":"0.5","lon":[-96.25,-96.20,-96.12,-96.07,-95.99,-95.97,-96.12,-96.25],"lat":[28.81,28.83,28.81,28.76,28.77,28.70,28.69,28.75]},
{"poly":108,"level":"1","lon":[-96.25,-96.20,-96.13,-96.12,-96.22,-96.25],"lat":[28.81,28.82,28.78,28.74,28.73,28.76]},
{"poly":109,"level":"2.5","lon":[-96.21,-96.18,-96.15,-96.18],"lat":[28.78,28.80,28.77,28.75]},
{"poly":110,"level":"0.25","lon":[-96.22,-96.17,-96.15,-96.19],"lat":[28.61,28.62,28.56,28.55]},
{"poly":111,"level":"1","lon":[-96.20,-96.17,-96.16,-96.19],"lat":[28.59,28.59,28.56,28.56]},
{"poly":112,"level":"0.25","lon":[-95.93,-95.89,-95.87,-95.89,-95.88,-95.82,-95.86,-95.93,-95.93,-95.91],"lat":[28.68,28.66,28.59,28.49,28.43,28.42,28.41,28.41,28.55,28.62]},
{"poly":113,"level":"0.5","lon":[-95.93,-95.89,-95.91,-95.92,-95.87,-95.93],"lat":[28.67,28.65,28.59,28.48,28.42,28.42]},
{"poly":114,"level":"0.25","lon":[-95.79,-95.75,-95.72],"lat":[29.02,29.04,29.0]},
{"poly":115,"level":"0.1","lon":[-95.72,-95.68,-95.69],"lat":[29.36,29.37,29.34]},
{"poly":116,"level":"0.1","lon":[-95.47,-95.42,-95.43,-95.46],"lat":[29.0,29.01,28.97,28.97]},
{"poly":117,"level":"0.25","lon":[-95.38,-95.35,-95.35,-95.38],"lat":[29.05,29.01,28.99,29.03]},
{"poly":118,"level":"0.25","lon":[-95.69,-95.61,-95.55,-95.62],"lat":[28.96,28.98,28.85,28.84]},
{"poly":119,"level":"0.5","lon":[-95.66,-95.61,-95.58,-95.62],"lat":[28.95,28.96,28.86,28.85]},
{"poly":120,"level":"0.1","lon":[-95.83,-95.78,-95.78,-95.82],"lat":[28.84,28.84,28.81,28.81]},
{"poly":121,"level":"0.25","lon":[-95.64,-95.52,-95.49,-95.63],"lat":[28.47,28.46,28.41,28.41]},
{"poly":122,"level":"2.5","lon":[-95.61,-95.53,-95.51,-95.60],"lat":[28.45,28.44,28.41,28.41]},
{"poly":123,"level":"0.25","lon":[-95.17,-95.14,-95.05,-95.07,-95.01,-95.06,-95.10,-95.18,-95.17,-95.21],"lat":[29.26,29.33,29.28,29.21,29.15,29.09,29.06,29.07,29.14,29.18]},
{"poly":124,"level":"1","lon":[-95.16,-95.12,-95.06,-95.08,-95.02,-95.06,-95.15,-95.14],"lat":[29.25,29.31,29.27,29.2,29.12,29.08,29.07,29.17]},
{"poly":125,"level":"hole","lon":[-95.18,-95.15,-95.11,-95.15],"lat":[29.23,29.26,29.23,29.2]},
{"poly":126,"level":"2.5","lon":[-95.13,-95.08,-95.03,-95.07],"lat":[29.12,29.15,29.1,29.08]},
{"poly":127,"level":"0.25","lon":[-95.06,-95.04,-94.93,-94.85,-94.74,-94.74,-94.82,-94.78,-94.80,-94.87,-94.95,-94.95,-95.03],"lat":[29.01,29.13,29.15,29.09,29.1,29.07,29.06,28.93,28.77,28.74,28.74,28.81,28.93]},
{"poly":128,"level":"0.5","lon":[-95.04,-95.01,-94.93,-94.86,-94.81,-94.78,-94.81,-94.87,-94.93,-94.94],"lat":[29.0,29.12,29.14,29.07,29.02,28.92,28.78,28.75,28.76,28.84]},
{"poly":129,"level":"1","lon":[-95.03,-94.99,-94.93,-94.87,-94.83,-94.80,-94.82,-94.92,-94.94,-95.0],"lat":[29.02,29.11,29.13,29.06,28.99,28.91,28.78,28.76,28.84,28.93]},
{"poly":130,"level":"2.5","lon":[-95.01,-94.97,-94.92,-94.88,-94.84,-94.83,-94.91,-94.99],"lat":[29.02,29.11,29.11,29.06,28.96,28.88,28.87,28.93]},
{"poly":131,"level":"5","lon":[-94.98,-94.95,-94.91,-94.88,-94.85,-94.85,-94.93,-94.95],"lat":[29.03,29.09,29.09,29.02,28.94,28.90,28.9,28.96]},
{"poly":132,"level":"7.5","lon":[-94.97,-94.94,-94.89,-94.90,-94.93,-94.96],"lat":[29.03,29.07,29.02,28.98,28.96,28.99]},
{"poly":133,"level":"7.5","lon":[-94.93,-94.84,-94.85,-94.91],"lat":[28.93,28.93,28.91,28.91]},
{"poly":134,"level":"15","lon":[-94.96,-94.93,-94.90,-94.92,-94.95],"lat":[29.03,29.06,29.03,28.98,29.0]},
{"poly":135,"level":"0.25","lon":[-94.79,-94.75,-94.71,-94.75],"lat":[29.22,29.25,29.23,29.18]},
{"poly":136,"level":"0.25","lon":[-94.68,-94.62,-94.56,-94.62],"lat":[29.16,29.22,29.17,29.17]},
{"poly":137,"level":"0.25","lon":[-94.44,-94.39,-94.39],"lat":[29.17,29.20,29.14]},
{"poly":138,"level":"0.25","lon":[-94.72,-94.68,-94.70,-94.72],"lat":[29.05,29.05,29.02,29.03]},
{"poly":139,"level":"0.25","lon":[-94.48,-94.40,-94.45,-94.42,-94.39,-94.35,-94.31,-94.23,-94.18,-94.13,-94.18,-94.08,-93.96,-93.95,-94.06,-94.06,-94.48,-94.37,-94.39,-94.42],"lat":[28.94,28.89,29.05,29.13,29.13,29.03,29.02,28.9,28.9,28.83,28.76,28.75,28.68,28.61,28.56,28.41,28.41,28.5,28.66,28.77]},
{"poly":140,"level":"0.5","lon":[-94.43,-94.38,-94.44,-94.40,-94.35,-94.29,-94.19,-94.16,-94.06,-93.97,-93.97,-94.06,-94.06,-94.46,-94.35,-94.38,-94.40],"lat":[28.88,28.85,29.04,29.10,28.97,28.97,28.92,28.73,28.75,28.67,28.62,28.58,28.41,28.41,28.48,28.63,28.78]},
{"poly":141,"level":"1","lon":[-94.36,-94.33,-94.28,-94.22,-94.17,-94.06,-93.98,-94.02,-94.08,-94.06,-94.42,-94.32,-94.39,-94.34],"lat":[28.83,28.94,28.95,28.83,28.71,28.75,28.68,28.63,28.66,28.41,28.41,28.45,28.56,28.66]},
{"poly":142,"level":"2.5","lon":[-94.33,-94.24,-94.17,-94.14,-94.11,-94.05,-94.06,-94.25,-94.16,-94.25,-94.28,-94.31],"lat":[28.82,28.85,28.8,28.68,28.58,28.51,28.41,28.41,28.47,28.57,28.65,28.75]},
{"poly":143,"level":"5","lon":[-94.31,-94.23,-94.17,-94.15,-94.13,-94.07,-94.07,-94.16,-94.14,-94.21,-94.27],"lat":[28.82,28.84,28.79,28.67,28.58,28.53,28.45,28.45,28.53,28.63,28.74]},
{"poly":144,"level":"7.5","lon":[-94.30,-94.18,-94.19,-94.22,-94.27],"lat":[28.82,28.8,28.72,28.73,28.77]},
{"poly":145,"level":"7.5","lon":[-94.13,-94.08,-94.08,-94.12],"lat":[28.55,28.57,28.53,28.49]},
{"poly":146,"level":"10","lon":[-94.28,-94.19,-94.21,-94.25],"lat":[28.81,28.81,28.74,28.78]},
{"poly":147,"level":"10","lon":[-94.12,-94.08,-94.11],"lat":[28.53,28.56,28.5]},
{"poly":148,"level":"0.25","lon":[-94.12,-94.09,-94.06,-94.09],"lat":[28.68,28.71,28.67,28.64]},
{"poly":149,"level":"hole","lon":[-94.18,-94.15,-94.14,-94.17],"lat":[28.76,28.77,28.72,28.72]},
{"poly":150,"level":"hole","lon":[-94.29,-94.26,-94.23,-94.27],"lat":[28.43,28.45,28.42,28.41]},
{"poly":151,"level":"2.5","lon":[-94.04,-94.0,-93.97,-94.01],"lat":[28.67,28.69,28.66,28.64]},
{"poly":152,"level":"0.25","lon":[-94.64,-94.60,-94.53,-94.55],"lat":[28.41,28.51,28.55,28.41]},
{"poly":153,"level":"0.5","lon":[-94.60,-94.58,-94.56,-94.58],"lat":[28.41,28.51,28.53,28.41]},
{"poly":154,"level":"0.25","lon":[-94.03,-94.03,-93.98,-93.89,-93.89],"lat":[28.41,28.47,28.49,28.47,28.41]},
{"poly":155,"level":"2.5","lon":[-94.0,-93.98,-93.90,-93.90],"lat":[28.41,28.45,28.44,28.41]},
{"poly":156,"level":"0.25","lon":[-94.14,-94.07,-94.03,-93.98,-93.89,-93.89,-93.98,-94.02,-94.09],"lat":[29.19,29.24,29.33,29.40,29.38,29.05,29.02,29.04,29.12]},
{"poly":157,"level":"1","lon":[-94.11,-94.03,-93.99,-93.89,-93.89,-93.98,-94.06],"lat":[29.19,29.28,29.36,29.35,29.06,29.03,29.11]},
{"poly":158,"level":"2.5","lon":[-94.08,-94.01,-93.98,-93.89,-93.89,-93.97,-94.04],"lat":[29.19,29.28,29.33,29.33,29.09,29.06,29.13]},
{"poly":159,"level":"5","lon":[-94.02,-93.98,-93.89,-93.89,-93.95,-93.99],"lat":[29.21,29.32,29.32,29.19,29.21,29.17]},
{"poly":160,"level":"7.5","lon":[-93.97,-93.89,-93.89,-93.93],"lat":[29.32,29.31,29.22,29.22]},
{"poly":161,"level":"15","lon":[-93.96,-93.89,-93.89,-93.92],"lat":[29.31,29.30,29.24,29.24]},
{"poly":162,"level":"0.5","lon":[-93.97,-93.95,-93.91,-93.95],"lat":[29.17,29.19,29.17,29.15]},
{"poly":163,"level":"0.25","lon":[-93.94,-93.89,-93.89,-93.95],"lat":[28.89,28.92,28.76,28.84]},
{"poly":164,"level":"2.5","lon":[-93.93,-93.89,-93.89],"lat":[28.86,28.89,28.79]},
{"poly":165,"level":"0.5","lon":[-93.94,-93.89,-93.89,-93.93],"lat":[29.45,29.50,29.43,29.42]}
]},"transform":[{"flatten":["lon","lat"]}],"mark":{"type":"line","order":false,"clip":true,"strokeOpacity":0},"encoding":{"detail":{"field":"poly"},"x":{"field":"lon","type":"quantitative","scale":{"domain":[-96.248,-93.895],"range":[0,448]}},"y":{"field":"lat","type":"quantitative","scale":{"domain":[28.407,30.501],"range":[434,27.5]}},"fill":{"field":"level","type":"ordinal","scale":{"domain":["hole","0.1","0.25","0.5","1","2.5","5","7.5","10","15","20","25","35","50"],"range":["#ffffff","#0000c4","#0a50f0","#12b0f6","#4ceeac","#a8e652","#f8f80a","#ffc400","#ff9a0a","#ff6a0a","#ff4210","#ff1a08","#c80000","#800000"]},"legend":null}}},
{"data":{"values":[
{"part":"a","lon":[-96.25,-96.22,-96.13,-96.06,-96.0,-95.93,-95.84,-95.72,-95.79,-95.87,-95.92,-95.93],"lat":[28.49,28.50,28.54,28.59,28.62,28.63,28.66,28.72,28.71,28.68,28.66,28.63]},
{"part":"b","lon":[-95.93,-95.95,-95.95,-95.87,-95.78,-95.66,-95.60,-95.49,-95.41,-95.38,-95.28,-95.24,-95.16,-95.15,-95.13,-95.08,-95.01,-94.95,-94.90,-94.88],"lat":[28.63,28.64,28.71,28.74,28.74,28.75,28.77,28.84,28.89,28.89,28.97,29.01,29.05,29.13,29.19,29.21,29.27,29.33,29.35,29.40]},
{"part":"c","lon":[-94.88,-94.82,-94.72,-94.85,-95.01,-95.09,-95.11,-95.14],"lat":[29.40,29.39,29.35,29.30,29.19,29.14,29.10,29.08]},
{"part":"d","lon":[-94.84,-94.91,-94.93,-94.96,-94.92,-94.98,-95.01,-95.02,-95.0,-95.01,-95.06,-95.07,-95.0,-94.93,-94.87,-94.82,-94.73,-94.70,-94.72,-94.76,-94.79,-94.66,-94.57,-94.50,-94.50,-94.56,-94.64,-94.68,-94.77,-94.80,-94.77,-94.68,-94.60,-94.45,-94.35,-94.21,-94.06,-93.94,-93.89],"lat":[29.38,29.42,29.44,29.48,29.50,29.53,29.54,29.56,29.62,29.67,29.72,29.75,29.74,29.67,29.71,29.78,29.78,29.74,29.66,29.59,29.54,29.56,29.58,29.56,29.53,29.52,29.50,29.45,29.37,29.38,29.42,29.47,29.50,29.54,29.58,29.63,29.69,29.69,29.68]},
{"part":"e","lon":[-93.89,-93.93,-93.94,-93.89],"lat":[29.91,29.86,29.81,29.75]},
{"part":"f","lon":[-93.89,-93.96,-93.94,-93.89],"lat":[29.72,29.70,29.67,29.67]},
{"part":"g","lon":[-96.23,-96.22,-96.15,-96.22,-96.21,-96.25],"lat":[28.60,28.64,28.64,28.67,28.70,28.71]},
{"part":"h","lon":[-96.23,-96.12,-96.01,-95.99,-96.01,-96.11,-96.17,-96.22],"lat":[28.60,28.62,28.66,28.64,28.61,28.57,28.53,28.50]}
]},"transform":[{"flatten":["lon","lat"]}],"mark":{"type":"line","order":false,"clip":true,"color":"#111","strokeWidth":1.1},"encoding":{"detail":{"field":"part"},"x":{"field":"lon","type":"quantitative","scale":{"domain":[-96.248,-93.895],"range":[0,448]}},"y":{"field":"lat","type":"quantitative","scale":{"domain":[28.407,30.501],"range":[434,27.5]}}}},
{"data":{"values":[{}]},"mark":{"type":"rect","fill":null,"stroke":"#000","strokeWidth":1.2},"encoding":{"x":{"datum":-96.248,"scale":{"domain":[-96.248,-93.895],"range":[0,448]}},"x2":{"datum":-93.895},"y":{"datum":28.407,"scale":{"domain":[28.407,30.501],"range":[434,27.5]}},"y2":{"datum":30.501}}},
{"data":{"values":[{"label":"Stage IV Total"}]},"mark":{"type":"text","fontSize":40,"fontWeight":"bold","font":"Liberation Sans","baseline":"alphabetic","color":"#000"},"encoding":{"text":{"field":"label"},"x":{"datum":-95.13,"scale":{"domain":[-96.248,-93.895],"range":[0,448]}},"y":{"datum":30.948,"scale":{"domain":[28.407,30.501],"range":[434,27.5]}}}},
{"data":{"values":[{"label":"2022-06-18 01:00:00-05:00"}]},"mark":{"type":"text","fontSize":18,"fontWeight":"bold","font":"DejaVu Sans","baseline":"alphabetic","color":"#000"},"encoding":{"text":{"field":"label"},"x":{"datum":-95.077,"scale":{"domain":[-96.248,-93.895],"range":[0,448]}},"y":{"datum":30.659,"scale":{"domain":[28.407,30.501],"range":[434,27.5]}}}},
{"data":{"values":[{"label":"Accumulated Precipitation (mm)"}]},"mark":{"type":"text","fontSize":18,"fontWeight":"bold","font":"DejaVu Sans","baseline":"alphabetic","color":"#000"},"encoding":{"text":{"field":"label"},"x":{"datum":-95.077,"scale":{"domain":[-96.248,-93.895],"range":[0,448]}},"y":{"datum":30.536,"scale":{"domain":[28.407,30.501],"range":[434,27.5]}}}}
]},
{"width":134,"height":445,"layer":[
{"data":{"values":[{"low":"0.1","i":0,"i2":1},{"low":"0.25","i":1,"i2":2},{"low":"0.5","i":2,"i2":3},{"low":"1","i":3,"i2":4},{"low":"2.5","i":4,"i2":5},{"low":"5","i":5,"i2":6},{"low":"7.5","i":6,"i2":7},{"low":"10","i":7,"i2":8},{"low":"15","i":8,"i2":9},{"low":"20","i":9,"i2":10},{"low":"25","i":10,"i2":11},{"low":"35","i":11,"i2":12},{"low":"50","i":12,"i2":13}]},"mark":{"type":"rect"},"encoding":{"x":{"datum":1,"scale":{"domain":[1,2],"range":[0,13]},"axis":null},"x2":{"datum":2},"y":{"field":"i","type":"quantitative","scale":{"domain":[0,13],"range":[421.7,49.2]},"axis":{"orient":"right","offset":-121,"values":[0,1,2,3,4,5,6,7,8,9,10,11,12,13],"tickCount":14,"labelExpr":"['0.1','0.25','0.5','1','2.5','5','7.5','10','15','20','25','35','50','60'][datum.value]","labelOverlap":false,"title":null,"domain":false,"tickSize":4,"tickColor":"#000","labelFont":"DejaVu Sans","labelFontSize":16,"labelFontWeight":"bold","labelColor":"#000","labelPadding":4,"labelFlush":false}},"y2":{"field":"i2"},"fill":{"field":"low","type":"nominal","scale":{"domain":["0.1","0.25","0.5","1","2.5","5","7.5","10","15","20","25","35","50"],"range":["#0000c4","#0a50f0","#12b0f6","#4ceeac","#a8e652","#f8f80a","#ffc400","#ff9a0a","#ff6a0a","#ff4210","#ff1a08","#c80000","#800000"]},"legend":null}}},
{"data":{"values":[{"i":[13,13.67,13],"pos":[1,1.5,2]}]},"transform":[{"flatten":["i","pos"]}],"mark":{"type":"line","order":false,"fill":"#6e0000","strokeOpacity":0},"encoding":{"x":{"field":"pos","type":"quantitative","scale":{"domain":[1,2],"range":[0,13]}},"y":{"field":"i","type":"quantitative","scale":{"domain":[0,13],"range":[421.7,49.2]}}}},
{"data":{"values":[{"i":[0,-0.6,0,0],"pos":[1,1.5,2,1]}]},"transform":[{"flatten":["i","pos"]}],"mark":{"type":"line","order":false,"fill":"white","stroke":"#000","strokeWidth":0.8},"encoding":{"x":{"field":"pos","type":"quantitative","scale":{"domain":[1,2],"range":[0,13]}},"y":{"field":"i","type":"quantitative","scale":{"domain":[0,13],"range":[421.7,49.2]}}}}
]},
{"width":457,"height":445,"layer":[
{"data":{"values":[{"d":10.6,"n":309,"m":"Cumulative fit"},{"d":12,"n":637,"m":"Cumulative fit"},{"d":14,"n":1374,"m":"Cumulative fit"},{"d":16,"n":2387,"m":"Cumulative fit"},{"d":18,"n":3571,"m":"Cumulative fit"},{"d":20,"n":4764,"m":"Cumulative fit"},{"d":23,"n":6320,"m":"Cumulative fit"},{"d":26,"n":7367,"m":"Cumulative fit"},{"d":30,"n":7880,"m":"Cumulative fit"},{"d":34,"n":7552,"m":"Cumulative fit"},{"d":38,"n":6740,"m":"Cumulative fit"},{"d":43,"n":5460,"m":"Cumulative fit"},{"d":50,"n":3774,"m":"Cumulative fit"},{"d":60,"n":2119,"m":"Cumulative fit"},{"d":70,"n":1302,"m":"Cumulative fit"},{"d":80,"n":1007,"m":"Cumulative fit"},{"d":87,"n":950,"m":"Cumulative fit"},{"d":100,"n":1050,"m":"Cumulative fit"},{"d":115,"n":1184,"m":"Cumulative fit"},{"d":135,"n":1248,"m":"Cumulative fit"},{"d":155,"n":1166,"m":"Cumulative fit"},{"d":175,"n":1004,"m":"Cumulative fit"},{"d":200,"n":765,"m":"Cumulative fit"},{"d":230,"n":512,"m":"Cumulative fit"},{"d":260,"n":325,"m":"Cumulative fit"},{"d":300,"n":171,"m":"Cumulative fit"},{"d":350,"n":73.5,"m":"Cumulative fit"},{"d":400,"n":32,"m":"Cumulative fit"},{"d":450,"n":14.9,"m":"Cumulative fit"},{"d":506,"n":7.4,"m":"Cumulative fit"},
{"d":10.6,"n":309,"m":"Mode 1"},{"d":12,"n":637,"m":"Mode 1"},{"d":14,"n":1374,"m":"Mode 1"},{"d":16,"n":2387,"m":"Mode 1"},{"d":18,"n":3571,"m":"Mode 1"},{"d":20,"n":4764,"m":"Mode 1"},{"d":23,"n":6320,"m":"Mode 1"},{"d":26,"n":7367,"m":"Mode 1"},{"d":30,"n":7870,"m":"Mode 1"},{"d":34,"n":7550,"m":"Mode 1"},{"d":38,"n":6730,"m":"Mode 1"},{"d":43,"n":5446,"m":"Mode 1"},{"d":50,"n":3716,"m":"Mode 1"},{"d":60,"n":1958,"m":"Mode 1"},{"d":70,"n":978,"m":"Mode 1"},{"d":80,"n":478,"m":"Mode 1"},{"d":90,"n":234,"m":"Mode 1"},{"d":100,"n":120,"m":"Mode 1"},{"d":110,"n":62,"m":"Mode 1"},{"d":120,"n":32,"m":"Mode 1"},{"d":130,"n":17,"m":"Mode 1"},{"d":140,"n":9,"m":"Mode 1"},{"d":147,"n":5.9,"m":"Mode 1"},
{"d":36.5,"n":5.9,"m":"Mode 2"},{"d":40,"n":12.5,"m":"Mode 2"},{"d":45,"n":29,"m":"Mode 2"},{"d":50,"n":58,"m":"Mode 2"},{"d":60,"n":161,"m":"Mode 2"},{"d":70,"n":324,"m":"Mode 2"},{"d":80,"n":529,"m":"Mode 2"},{"d":90,"n":742,"m":"Mode 2"},{"d":100,"n":935,"m":"Mode 2"},{"d":115,"n":1144,"m":"Mode 2"},{"d":135,"n":1238,"m":"Mode 2"},{"d":155,"n":1166,"m":"Mode 2"},{"d":175,"n":1004,"m":"Mode 2"},{"d":200,"n":765,"m":"Mode 2"},{"d":230,"n":512,"m":"Mode 2"},{"d":260,"n":325,"m":"Mode 2"},{"d":300,"n":171,"m":"Mode 2"},{"d":350,"n":73.5,"m":"Mode 2"},{"d":400,"n":32,"m":"Mode 2"},{"d":450,"n":14.9,"m":"Mode 2"},{"d":506,"n":7.4,"m":"Mode 2"}]},"mark":{"type":"line","order":false,"strokeWidth":2},"encoding":{"x":{"field":"d","type":"quantitative","scale":{"type":"log","domain":[8.7,614],"range":[0,457]},"title":"Diameter (nm)","axis":{"offset":-28,"values":[9,10,20,30,40,50,60,70,80,90,100,200,300,400,500,600],"tickCount":16,"labelExpr":"datum.value==10?'10¹':datum.value==100?'10²':''","labelOverlap":false,"labelFlush":false,"tickSize":11,"tickColor":"#333","tickWidth":1.3,"domainColor":"#333","domainWidth":1.5,"labelFont":"DejaVu Sans","labelFontSize":13,"labelColor":"#444","labelPadding":2,"titleFont":"DejaVu Sans","titleFontSize":17,"titleFontWeight":"normal","titleColor":"#444","titlePadding":2}},"y":{"field":"n","type":"quantitative","scale":{"type":"log","domain":[5.85,16400],"range":[417,21]},"title":"Aerosol size distribution (cm-3)","axis":{"values":[6,7,8,9,10,20,30,40,50,60,70,80,90,100,200,300,400,500,600,700,800,900,1000,2000,3000,4000,5000,6000,7000,8000,9000,10000],"tickCount":32,"labelExpr":"datum.value==10?'10¹':datum.value==100?'10²':datum.value==1000?'10³':datum.value==10000?'10⁴':''","labelOverlap":false,"labelFlush":false,"tickSize":12,"tickColor":"#333","tickWidth":1.3,"domainColor":"#333","domainWidth":1.5,"labelFont":"DejaVu Sans","labelFontSize":14,"labelColor":"#444","labelPadding":2,"titleFont":"DejaVu Sans","titleFontSize":17,"titleFontWeight":"normal","titleColor":"#444","titlePadding":4}},"stroke":{"field":"m","type":"nominal","scale":{"domain":["Cumulative fit","Mode 1","Mode 2"],"range":["#2418a8","#2a7a2a","#c020c0"]},"legend":{"orient":"none","legendX":378,"legendY":36,"title":null,"symbolType":"stroke","symbolSize":260,"symbolStrokeWidth":2,"labelFont":"DejaVu Sans","labelFontSize":7.5,"labelColor":"#444","padding":0,"rowPadding":1}},"strokeDash":{"field":"m","type":"nominal","scale":{"domain":["Cumulative fit","Mode 1","Mode 2"],"range":[[1,0],[7,4],[7,4]]}}}},
{"data":{"values":[{"d":10.6,"n":745,"m":"Data"},{"d":10.9,"n":911,"m":"Data"},{"d":11.2,"n":993,"m":"Data"},{"d":11.8,"n":1112,"m":"Data"},{"d":12.2,"n":1280,"m":"Data"},{"d":12.5,"n":1333,"m":"Data"},{"d":13,"n":1493,"m":"Data"},{"d":13.5,"n":1543,"m":"Data"},{"d":14,"n":1618,"m":"Data"},{"d":14.7,"n":1811,"m":"Data"},{"d":15.3,"n":1977,"m":"Data"},{"d":15.8,"n":2183,"m":"Data"},{"d":16.3,"n":2382,"m":"Data"},{"d":16.9,"n":2582,"m":"Data"},{"d":17.4,"n":2812,"m":"Data"},{"d":18.1,"n":3154,"m":"Data"},{"d":18.8,"n":3483,"m":"Data"},{"d":19.5,"n":3926,"m":"Data"},{"d":20.1,"n":4400,"m":"Data"},{"d":20.8,"n":4768,"m":"Data"},{"d":21.6,"n":5370,"m":"Data"},{"d":22.5,"n":5861,"m":"Data"},{"d":23.5,"n":6442,"m":"Data"},{"d":24.7,"n":7261,"m":"Data"},{"d":26,"n":7500,"m":"Data"},{"d":27.3,"n":7870,"m":"Data"},{"d":28.7,"n":8128,"m":"Data"},{"d":30.2,"n":8128,"m":"Data"},{"d":31.7,"n":7870,"m":"Data"},{"d":33.3,"n":7500,"m":"Data"},{"d":35.1,"n":7015,"m":"Data"},{"d":36.9,"n":6653,"m":"Data"},{"d":38.7,"n":6026,"m":"Data"},{"d":40.7,"n":5559,"m":"Data"},{"d":42.8,"n":5093,"m":"Data"},{"d":44.7,"n":4613,"m":"Data"},{"d":47.3,"n":3926,"m":"Data"},{"d":49.7,"n":3483,"m":"Data"},{"d":52.2,"n":3090,"m":"Data"},{"d":55,"n":2723,"m":"Data"},{"d":57.8,"n":2415,"m":"Data"},{"d":60.7,"n":2138,"m":"Data"},{"d":63.8,"n":1936,"m":"Data"},{"d":67.1,"n":1762,"m":"Data"},{"d":70.5,"n":1618,"m":"Data"},{"d":74.1,"n":1493,"m":"Data"},{"d":78.7,"n":1306,"m":"Data"},{"d":83.2,"n":1197,"m":"Data"},{"d":87.5,"n":1099,"m":"Data"},{"d":92,"n":1066,"m":"Data"},{"d":96.7,"n":1033,"m":"Data"},{"d":101.6,"n":1007,"m":"Data"},{"d":108.6,"n":1007,"m":"Data"},{"d":114,"n":1023,"m":"Data"},{"d":120,"n":1045,"m":"Data"},{"d":126,"n":1030,"m":"Data"},{"d":133,"n":1053,"m":"Data"},{"d":139.5,"n":1033,"m":"Data"},{"d":146.6,"n":1045,"m":"Data"},{"d":154,"n":1033,"m":"Data"},{"d":162,"n":1045,"m":"Data"},{"d":170,"n":1030,"m":"Data"},{"d":179,"n":1015,"m":"Data"},{"d":188,"n":980,"m":"Data"},{"d":201,"n":929,"m":"Data"},{"d":211,"n":857,"m":"Data"},{"d":222,"n":787,"m":"Data"},{"d":234,"n":712,"m":"Data"},{"d":244,"n":614,"m":"Data"},{"d":254,"n":545,"m":"Data"},{"d":263,"n":480,"m":"Data"},{"d":274,"n":417,"m":"Data"},{"d":283,"n":356,"m":"Data"},{"d":293,"n":305,"m":"Data"},{"d":305,"n":250,"m":"Data"},{"d":316,"n":200,"m":"Data"},{"d":328,"n":171,"m":"Data"},{"d":340,"n":131,"m":"Data"},{"d":353,"n":110,"m":"Data"},{"d":366,"n":81,"m":"Data"},{"d":379,"n":65,"m":"Data"},{"d":393,"n":47,"m":"Data"},{"d":408,"n":39,"m":"Data"},{"d":424,"n":30,"m":"Data"},{"d":438,"n":25,"m":"Data"},{"d":456,"n":16.7,"m":"Data"},{"d":470,"n":11.8,"m":"Data"},{"d":489,"n":12.5,"m":"Data"},{"d":507,"n":11.6,"m":"Data"}]},"mark":{"type":"point","filled":true,"size":22,"opacity":1},"encoding":{"x":{"field":"d","type":"quantitative","scale":{"type":"log","domain":[8.7,614],"range":[0,457]}},"y":{"field":"n","type":"quantitative","scale":{"type":"log","domain":[5.85,16400],"range":[417,21]}},"fill":{"field":"m","type":"nominal","scale":{"domain":["Data"],"range":["#d2101e"]},"legend":{"orient":"none","legendX":378,"legendY":25,"title":null,"symbolType":"circle","symbolSize":22,"labelFont":"DejaVu Sans","labelFontSize":7.5,"labelColor":"#444","padding":0}}}},
{"data":{"values":[{}]},"mark":{"type":"rect","fill":null,"stroke":"#222","strokeWidth":1.5},"encoding":{"x":{"datum":8.7,"scale":{"type":"log","domain":[8.7,614],"range":[0,457]}},"x2":{"datum":614},"y":{"datum":5.85,"scale":{"type":"log","domain":[5.85,16400],"range":[417,21]}},"y2":{"datum":16400}}},
{"data":{"values":[{}]},"mark":{"type":"rect","fill":null,"stroke":"#ddd","strokeWidth":1},"encoding":{"x":{"datum":291,"scale":{"type":"log","domain":[8.7,614],"range":[0,457]}},"x2":{"datum":593},"y":{"datum":15170,"scale":{"type":"log","domain":[5.85,16400],"range":[417,21]}},"y2":{"datum":6020}}},
{"data":{"values":[{"label":"Aerosol Size Distr."}]},"mark":{"type":"text","fontSize":39,"fontWeight":"bold","font":"Liberation Sans","baseline":"alphabetic","color":"#000"},"encoding":{"text":{"field":"label"},"x":{"datum":70.8,"scale":{"type":"log","domain":[8.7,614],"range":[0,457]}},"y":{"datum":82200,"scale":{"type":"log","domain":[5.85,16400],"range":[417,21]}}}},
{"data":{"values":[{"label":"Multi-Modal Fitting"}]},"mark":{"type":"text","fontSize":17.5,"font":"DejaVu Sans","baseline":"alphabetic","color":"#333"},"encoding":{"text":{"field":"label"},"x":{"datum":72.8,"scale":{"type":"log","domain":[8.7,614],"range":[0,457]}},"y":{"datum":17800,"scale":{"type":"log","domain":[5.85,16400],"range":[417,21]}}}}
]}
]}
